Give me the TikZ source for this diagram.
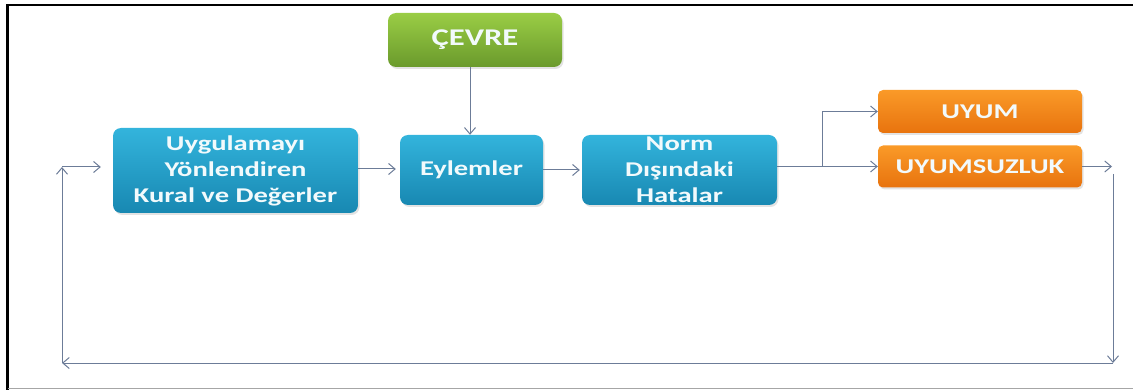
\documentclass[tikz,border=0pt]{standalone}
\usepackage{fontspec}
\newfontfamily\boxfont{Carlito}[FakeStretch=1.36]
\usetikzlibrary{arrows.meta,shadows}
\definecolor{linegray}{HTML}{6C7C98}
\definecolor{bluetop}{HTML}{33B4DC}
\definecolor{bluebot}{HTML}{1888B2}
\definecolor{greentop}{HTML}{9ACD45}
\definecolor{greenbot}{HTML}{6A9A2C}
\definecolor{orangetop}{HTML}{FA9A28}
\definecolor{orangebot}{HTML}{E8730E}
\definecolor{boxtext}{HTML}{F2FAFC}
\tikzset{
  box/.style={rounded corners=8pt, inner sep=0pt, align=center,
    text=boxtext, font=\boxfont\bfseries\fontsize{21}{26}\selectfont,
    drop shadow={opacity=0.22, shadow xshift=1.5pt, shadow yshift=-2pt}},
  bluebox/.style={box, top color=bluetop, bottom color=bluebot},
  greenbox/.style={box, top color=greentop, bottom color=greenbot,
    font=\boxfont\bfseries\fontsize{24}{28}\selectfont},
  orangebox/.style={box, rounded corners=5pt, top color=orangetop, bottom color=orangebot,
    font=\boxfont\bfseries\fontsize{21}{25}\selectfont},
  arr/.style={draw=linegray, line width=1pt, -{Straight Barb[length=6.5pt,width=11pt,line width=1pt]}},
  ln/.style={draw=linegray, line width=1pt}
}
\begin{document}
\begin{tikzpicture}[x=1pt,y=-1pt]
\useasboundingbox (0,0) rectangle (1133,390);
% page frame
\draw[black, line width=2.5pt] (7.5,390) -- (7.5,5) -- (1133,5);
\draw[gray!70, line width=1.2pt] (7.5,388.5) -- (1133,388.5);

% boxes
\node[bluebox, minimum width=245pt, minimum height=85pt] (kural) at (235.5,170.5)
  {Uygulamayı\\Yönlendiren\\Kural ve Değerler};
\node[bluebox, minimum width=143pt, minimum height=70pt] (eylem) at (471.5,170) {Eylemler};
\node[bluebox, minimum width=195pt, minimum height=70pt] (norm) at (679.5,170)
  {Norm\\Dışındaki\\Hatalar};
\node[greenbox, minimum width=174pt, minimum height=54pt] (cevre) at (475,40) {ÇEVRE};
\node[orangebox, minimum width=204pt, minimum height=43pt] (uyum) at (980,111.5) {UYUM};
\node[orangebox, minimum width=204pt, minimum height=42pt] (uyumsuz) at (980,166.5) {UYUMSUZLUK};

% connector points
\coordinate (split) at (822,166.5);
\coordinate (outTip) at (1112,166.5);
\coordinate (fbTop) at (1113,174);
\coordinate (fbBot) at (1113,363);
\coordinate (fbLeft) at (62,363);
\coordinate (fbUp) at (62,167);

% main flow
\draw[arr] (cevre.south -| 470,0) -- (eylem.north -| 470,0);
\draw[arr, shorten >=4pt] (kural.east |- 0,169) -- (eylem.west |- 0,169);
\draw[arr, shorten >=2pt] (eylem.east |- 0,170) -- (norm.west |- 0,170);
\draw[arr] (norm.east |- split) -- (uyumsuz.west);
\draw[arr] (split) |- (uyum.west);
\draw[arr] (uyumsuz.east) -- (outTip);

% feedback loop
\draw[arr] (fbTop) -- (fbBot);
\draw[arr] (fbBot) -- (fbLeft);
\draw[arr] (fbLeft) -- (fbUp);
\draw[arr, shorten >=12pt] (fbUp) -- (kural.west |- fbUp);
\end{tikzpicture}
\end{document}
